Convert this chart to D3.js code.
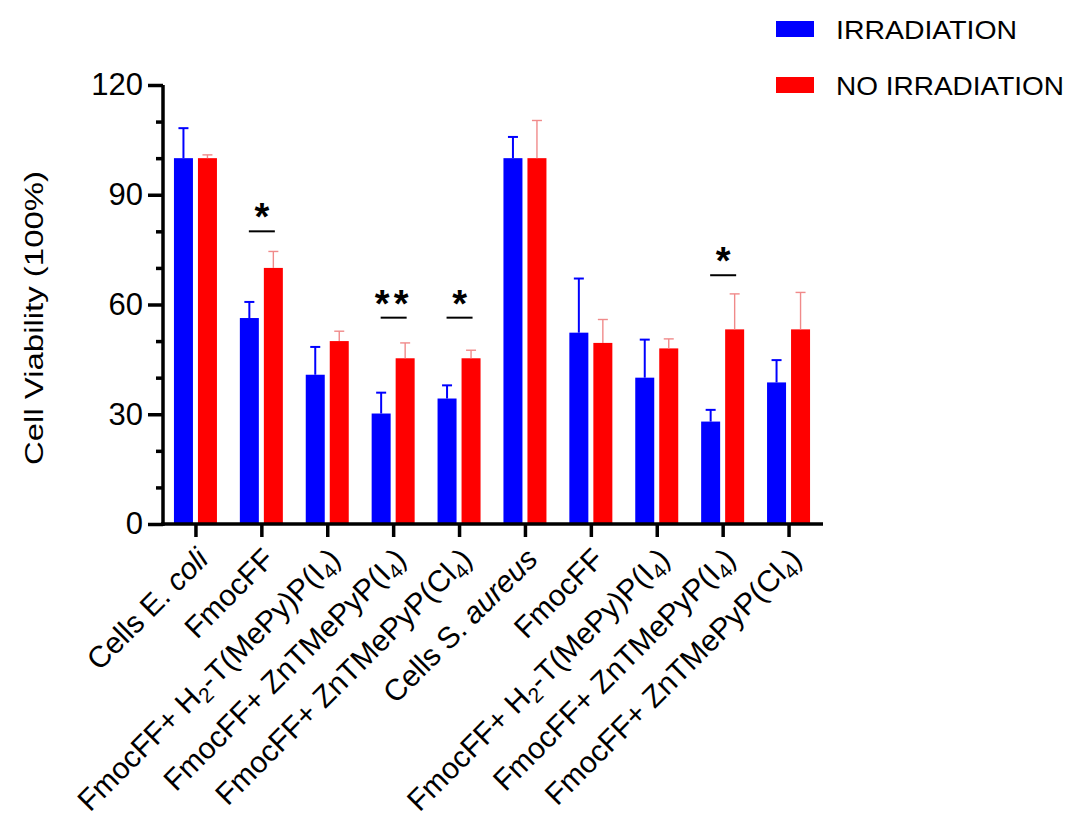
<!DOCTYPE html>
<html>
<head>
<meta charset="utf-8">
<script src="https://cdn.jsdelivr.net/npm/d3@7"></script>
<style>
  html, body { margin: 0; padding: 0; background: #fff; }
  svg { display: block; font-family: "Liberation Sans", Arial, sans-serif; }
</style>
</head>
<body>
<svg id="chart" width="1067" height="817"></svg>
<script>
// ---- data ----
// markup: _text_ = italic, ~text~ = subscript
const categories = [
  "Cells E. _coli_",
  "FmocFF",
  "FmocFF+ H~2~-T(MePy)P(I~4~)",
  "FmocFF+ ZnTMePyP(I~4~)",
  "FmocFF+ ZnTMePyP(Cl~4~)",
  "Cells S. _aureus_",
  "FmocFF",
  "FmocFF+ H~2~-T(MePy)P(I~4~)",
  "FmocFF+ ZnTMePyP(I~4~)",
  "FmocFF+ ZnTMePyP(Cl~4~)"
];
const seriesNames = ["IRRADIATION", "NO IRRADIATION"];
const irradiation      = [100, 56.3, 40.8, 30.2, 34.3, 100, 52.3, 40.0, 28.0, 38.7];
const irradiationErr   = [8.2, 4.4, 7.6, 5.7, 3.6, 5.8, 14.8, 10.4, 3.2, 6.1];
const noIrradiation    = [100, 70.0, 50.0, 45.3, 45.3, 100, 49.5, 48.0, 53.2, 53.2];
const noIrradiationErr = [0.9, 4.5, 2.7, 4.2, 2.2, 10.3, 6.4, 2.6, 9.7, 10.1];
const yTicks = [0, 30, 60, 90, 120];
const yMinorTicks = [10, 20, 40, 50, 70, 80, 100, 110];
const sigIndex  = [1, 3, 4, 8];
const sigLabel  = ["*", "**", "*", "*"];
const sigLevel  = [80, 56.4, 56.4, 68];
const yTitle = "Cell Viability (100%)";

(function () {
// ---- layout ----
const svg = d3.select("#chart");
const pL = 163, pR = 822, pT = 85, pB = 524;
const colors = ["#0000ff", "#ff0000"];
const errColors = ["#0000ff", "#f08a8a"];
const errWidths = [2, 1.4];

const y = d3.scaleLinear().domain([0, 120]).range([pB, pT]);
const x = d3.scaleBand().domain(d3.range(categories.length)).range([pL, pR]).padding(0);
const xs = d3.scaleBand().domain([0, 1]).range([-22, 21]).paddingInner(5 / 24).paddingOuter(0);

const rows = categories.map((c, i) => ({
  i,
  vals: [
    { s: 0, v: irradiation[i], e: irradiationErr[i] },
    { s: 1, v: noIrradiation[i], e: noIrradiationErr[i] }
  ]
}));

// bars
const g = svg.append("g");
const groups = g.selectAll("g.grp").data(rows).join("g")
  .attr("class", "grp")
  .attr("transform", d => `translate(${x(d.i) + x.bandwidth() / 2},0)`);

groups.selectAll("rect").data(d => d.vals).join("rect")
  .attr("x", d => xs(d.s))
  .attr("width", xs.bandwidth())
  .attr("y", d => y(d.v))
  .attr("height", d => y(0) - y(d.v))
  .attr("fill", d => colors[d.s]);

// error bars (upper only)
const eb = groups.selectAll("g.err").data(d => d.vals).join("g").attr("class", "err")
  .attr("stroke", d => errColors[d.s])
  .attr("stroke-width", d => errWidths[d.s]);
eb.append("line")
  .attr("x1", d => xs(d.s) + xs.bandwidth() / 2)
  .attr("x2", d => xs(d.s) + xs.bandwidth() / 2)
  .attr("y1", d => y(d.v))
  .attr("y2", d => y(d.v + d.e));
eb.append("line")
  .attr("x1", d => xs(d.s) + xs.bandwidth() / 2 - 5)
  .attr("x2", d => xs(d.s) + xs.bandwidth() / 2 + 5)
  .attr("y1", d => y(d.v + d.e))
  .attr("y2", d => y(d.v + d.e));

// y axis
const yAxis = svg.append("g").attr("transform", `translate(${pL},0)`)
  .call(d3.axisLeft(y).tickValues(yTicks).tickSize(15).tickSizeOuter(0).tickPadding(5));
svg.append("g").attr("transform", `translate(${pL},0)`)
  .call(d3.axisLeft(y).tickValues(yMinorTicks).tickSize(7).tickFormat(""))
  .call(a => a.select(".domain").remove());
yAxis.select(".domain").attr("d", `M0,${pT}V${pB + 2}`);
svg.selectAll(".tick line, .domain").attr("stroke", "#000").attr("stroke-width", 3.5);
yAxis.selectAll(".tick text").attr("font-size", 31).attr("fill", "#000")
  .attr("font-family", "'Liberation Sans', Arial, sans-serif");

// x axis
const xAxis = svg.append("g").attr("transform", `translate(0,${pB})`)
  .call(d3.axisBottom(x).tickSize(13).tickSizeOuter(0).tickFormat(""));
xAxis.select(".domain").attr("d", `M${pL - 2},0H${pR + 1}`)
  .attr("stroke", "#000").attr("stroke-width", 3.5);
xAxis.selectAll(".tick line").attr("stroke", "#000").attr("stroke-width", 3.5);

function richText(sel, str, fs) {
  const parts = str.split(/(_[^_]+_|~[^~]+~)/).filter(p => p.length);
  let shifted = false;
  parts.forEach(p => {
    const t = sel.append("tspan");
    if (p.startsWith("_")) {
      t.text(p.slice(1, -1)).attr("font-style", "italic");
      if (shifted) { t.attr("dy", -fs * 0.2); shifted = false; }
    } else if (p.startsWith("~")) {
      t.text(p.slice(1, -1)).attr("font-size", fs * 0.7).attr("dy", fs * 0.2);
      shifted = true;
    } else {
      t.text(p);
      if (shifted) { t.attr("dy", -fs * 0.2); shifted = false; }
    }
  });
}

const xfs = 30;
xAxis.selectAll(".tick").each(function (d) {
  const t = d3.select(this).append("text")
    .attr("fill", "#000")
    .attr("font-size", xfs)
    .attr("text-anchor", "end")
    .attr("transform", "translate(14,37) rotate(-45)");
  richText(t, categories[d], xfs);
});

// y title
svg.append("text")
  .attr("transform", `translate(43,318) rotate(-90)`)
  .attr("text-anchor", "middle")
  .attr("font-size", 26)
  .attr("textLength", 294)
  .attr("lengthAdjust", "spacingAndGlyphs")
  .attr("fill", "#000")
  .text(yTitle);

// significance
const sig = svg.append("g");
sigIndex.forEach((gi, k) => {
  const cx = x(gi) + x.bandwidth() / 2;
  const ly = y(sigLevel[k]);
  sig.append("line")
    .attr("x1", cx - 13).attr("x2", cx + 13)
    .attr("y1", ly).attr("y2", ly)
    .attr("stroke", "#000").attr("stroke-width", 2);
  sig.append("text")
    .attr("x", cx).attr("y", ly - 1)
    .attr("text-anchor", "middle")
    .attr("font-size", 38)
    .attr("font-weight", "bold")
    .attr("letter-spacing", sigLabel[k].length > 1 ? 4 : 0)
    .attr("fill", "#000")
    .text(sigLabel[k]);
});

// legend
const leg = svg.append("g");
const legLen = [181, 228];
seriesNames.forEach((n, k) => {
  leg.append("rect").attr("x", 776).attr("y", 21 + k * 56).attr("width", 38).attr("height", 16)
    .attr("fill", colors[k]);
  leg.append("text").attr("x", 836).attr("y", 39 + k * 56)
    .attr("font-size", 25)
    .attr("textLength", legLen[k])
    .attr("lengthAdjust", "spacingAndGlyphs")
    .attr("fill", "#000")
    .text(n);
});
})();
</script>
</body>
</html>
